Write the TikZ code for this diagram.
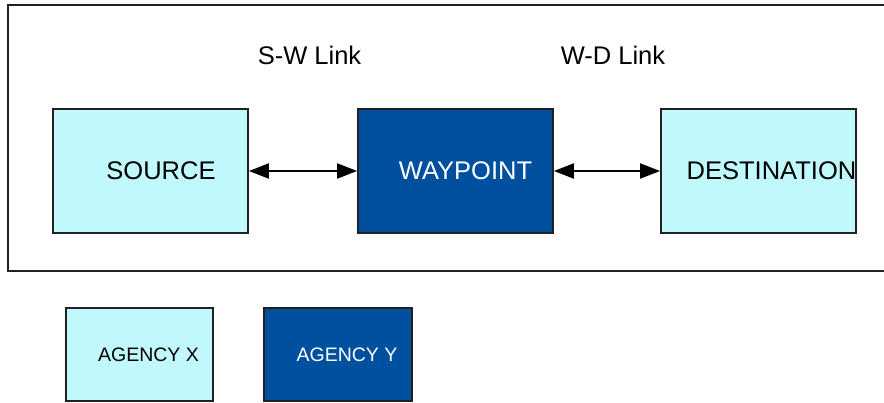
\documentclass[tikz,border=0pt]{standalone}
\usepackage{fontspec}
\setmainfont{Liberation Sans}
\usetikzlibrary{arrows.meta}
\definecolor{agx}{HTML}{C0F8FC}
\definecolor{agy}{HTML}{0050A0}
\definecolor{frame}{HTML}{202020}
\begin{document}
\begin{tikzpicture}[x=1pt,y=-1pt,
  boxx/.style={draw=frame,line width=1.8pt,fill=agx,inner sep=0pt},
  boxy/.style={draw=frame,line width=1.8pt,fill=agy,inner sep=0pt},
  bigtxt/.style={font=\fontsize{25.5}{28}\selectfont,inner sep=0pt},
  smalltxt/.style={font=\fontsize{19.5}{22}\selectfont,inner sep=0pt},
  link/.style={line width=2pt,{Triangle[length=20pt,width=15pt]}-{Triangle[length=20pt,width=15pt]}}]
\useasboundingbox (0,0) rectangle (884,403);
\draw[frame,line width=1.8pt] (884,5) -- (8,5) -- (8,271) -- (884,271);
% main boxes
\node[boxx,minimum width=195pt,minimum height=124pt] (src) at (150.5,171) {};
\node[boxy,minimum width=195pt,minimum height=124pt] (wp) at (455.5,171) {};
\node[boxx,minimum width=195pt,minimum height=124pt] (dst) at (758.5,171) {};
\node[bigtxt] (srct) at (161,171) {SOURCE};
\node[bigtxt,text=white] (wpt) at (465.5,171) {WAYPOINT};
\node[bigtxt] (dstt) at (771.5,171) {DESTINATION};
% links
\node[bigtxt] (swl) at (309.5,55) {S-W Link};
\node[bigtxt] (wdl) at (613,55) {W-D Link};
\draw[link] (src.east) -- (wp.west);
\draw[link] (wp.east) -- (dst.west);
% legend
\node[boxx,minimum width=147pt,minimum height=93pt] (lx) at (139.5,354.5) {};
\node[boxy,minimum width=148pt,minimum height=93pt] (ly) at (338,354.5) {};
\node[smalltxt] (lxt) at (148.5,355) {AGENCY X};
\node[smalltxt,text=white] (lyt) at (347,355) {AGENCY Y};
\end{tikzpicture}
\end{document}
